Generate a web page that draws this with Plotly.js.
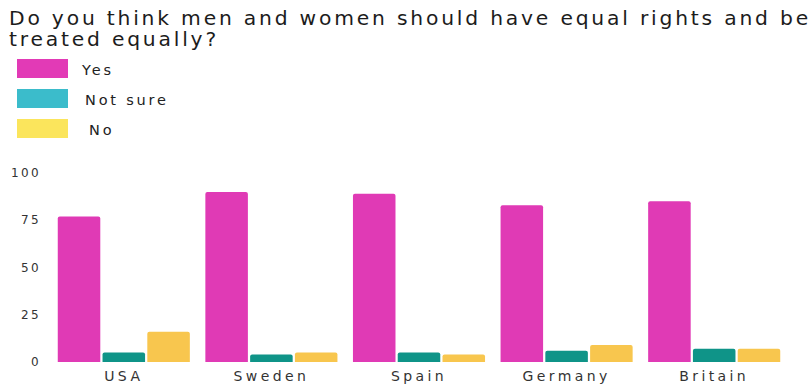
<!DOCTYPE html>
<html>
<head>
<meta charset="utf-8">
<script src="https://cdn.plot.ly/plotly-3.0.1.min.js"></script>
<style>
html,body{margin:0;padding:0;background:#fff;}
#chart{width:811px;height:385px;}
text{letter-spacing:2.8px;}
#chart .xtick text{letter-spacing:3.4px;}
#chart .ytick text{letter-spacing:2.4px;}
</style>
</head>
<body>
<div id="chart"></div>
<script>
const categories = ["USA", "Sweden", "Spain", "Germany", "Britain"];
const yesValues = [77, 90, 89, 83, 85];
const notSureValues = [5, 4, 5, 6, 7];
const noValues = [16, 5, 4, 9, 7];
const seriesNames = ["Yes", "Not sure", "No"];
const yTickVals = [0, 25, 50, 75, 100];
const titleLines = ["Do you think men and women should have equal rights and be", "treated equally?"];

const barColors = ["#E03AB5", "#0F9488", "#F8C64E"];
const legendColors = ["#E23AB6", "#3BBCCB", "#FBE55C"];
const FONT = "DejaVu Sans, sans-serif";

const L = 50, R = 788, T = 173, B = 362;
const px = x => (x - L) / (R - L);
const py = y => (B - y) / (B - T);

const seriesValues = [yesValues, notSureValues, noValues];
const traces = seriesValues.map((vals, i) => ({
  type: "bar",
  name: seriesNames[i],
  x: categories,
  y: vals,
  marker: { color: barColors[i], cornerradius: 2, line: { width: 0 } },
  hoverinfo: "x+y+name"
}));

const shapes = [];
const annotations = [];
const legendTop = [59, 89, 119];
const legendLabelX = [79, 83, 87];
seriesNames.forEach((n, i) => {
  shapes.push({
    type: "rect", xref: "paper", yref: "paper",
    x0: px(17), x1: px(68),
    y0: py(legendTop[i]), y1: py(legendTop[i] + 19),
    fillcolor: legendColors[i], line: { width: 0 }
  });
  annotations.push({
    xref: "paper", yref: "paper", xanchor: "left", yanchor: "middle",
    x: px(legendLabelX[i]), y: py(legendTop[i] + 11),
    text: n, showarrow: false,
    font: { family: FONT, size: 14.5, color: "#222" }
  });
});
const titleY = [18, 39];
titleLines.forEach((t, i) => {
  annotations.push({
    xref: "paper", yref: "paper", xanchor: "left", yanchor: "middle",
    x: px(7), y: py(titleY[i]),
    text: t, showarrow: false,
    font: { family: FONT, size: 20.3, color: "#1c1c1c" }
  });
});

const layout = {
  width: 811, height: 385,
  margin: { l: L, r: 811 - R, t: T, b: 385 - B },
  paper_bgcolor: "#fff", plot_bgcolor: "#fff",
  showlegend: false,
  barmode: "group",
  bargap: 0.09,
  bargroupgap: 0.05,
  xaxis: {
    type: "category",
    showgrid: false, zeroline: false, showline: false,
    ticks: "", ticklabelstandoff: 4,
    tickfont: { family: FONT, size: 14, color: "#333" }
  },
  yaxis: {
    range: [0, 100],
    tickvals: yTickVals,
    showgrid: false, zeroline: false, showline: false,
    ticks: "", ticklabelstandoff: 8,
    tickfont: { family: FONT, size: 12, color: "#333" }
  },
  shapes: shapes,
  annotations: annotations
};

Plotly.newPlot("chart", traces, layout, { displayModeBar: false, staticPlot: true });
</script>
</body>
</html>
